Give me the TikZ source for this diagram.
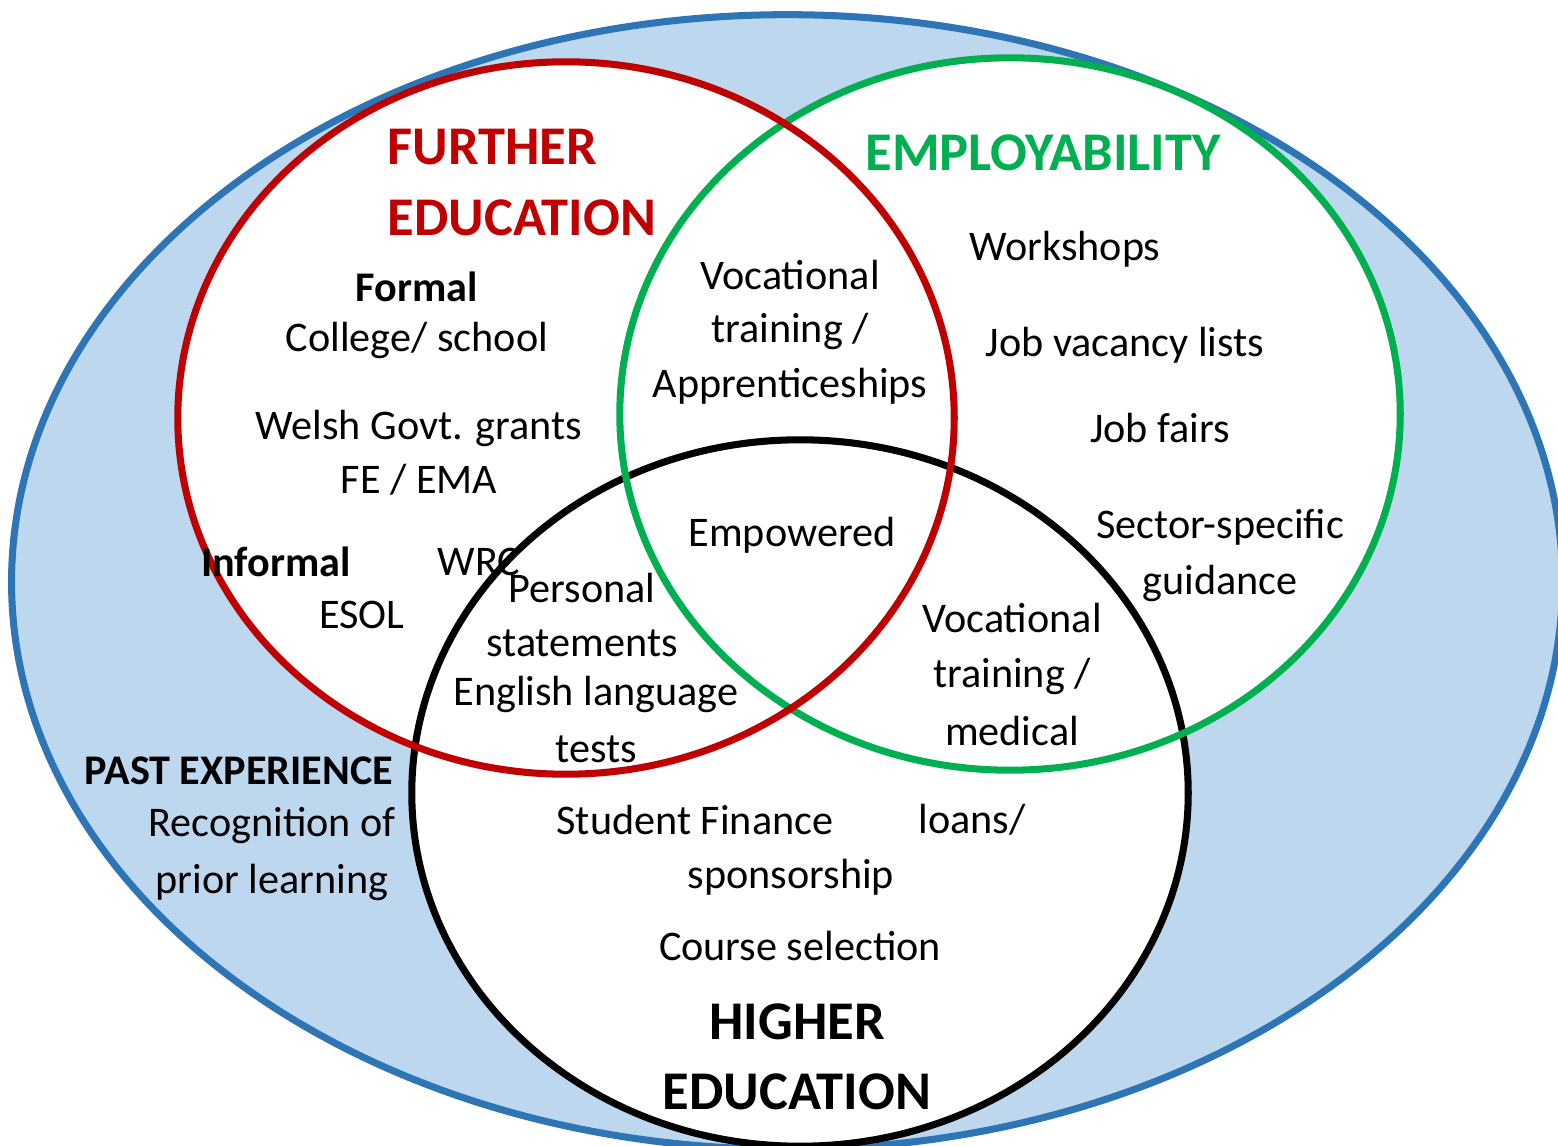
\documentclass[tikz,border=0pt]{standalone}
\usepackage{fontspec}
\setmainfont{Carlito}
\usepackage{tikz}
\definecolor{feRed}{HTML}{C00000}
\definecolor{empGreen}{HTML}{00B050}
\definecolor{pastBlue}{HTML}{2E75B6}
\definecolor{pastFill}{HTML}{BDD7EE}
\tikzset{
  ring/.style={line width=2pt},
  item/.style={inner sep=0pt,font=\fontsize{12}{14}\selectfont},
  boldItem/.style={item,font=\fontsize{12}{14}\selectfont\bfseries},
  title/.style={inner sep=0pt,font=\fontsize{15.5}{18}\selectfont\bfseries}
}

\begin{document}
\begin{tikzpicture}[x=0.01cm,y=-0.01cm]
  \useasboundingbox (0,0) rectangle (1558,1146);
  \clip (0,0) rectangle (1558,1146);

  \coordinate (P) at (787,582);  % past experience
  \coordinate (F) at (566,418);  % further education
  \coordinate (E) at (1010,414); % employability
  \coordinate (H) at (800,793);  % higher education

  \filldraw[ring,draw=pastBlue,fill=pastFill] (P) ellipse [x radius=7.75cm, y radius=5.67cm];
  \fill[white] (F) ellipse [x radius=3.88cm, y radius=3.56cm];
  \fill[white] (E) ellipse [x radius=3.90cm, y radius=3.56cm];
  \fill[white] (H) ellipse [x radius=3.88cm, y radius=3.53cm];
  \draw[ring,black] (H) ellipse [x radius=3.88cm, y radius=3.53cm];
  \draw[ring,empGreen] (E) ellipse [x radius=3.90cm, y radius=3.56cm];
  \draw[ring,feRed] (F) ellipse [x radius=3.88cm, y radius=3.56cm];

  % further education
  \node[title,text=feRed,anchor=west] (feA) at (387,147) {FURTHER};
  \node[title,text=feRed,anchor=west] (feB) at (387,218) {EDUCATION};
  \node[boldItem] (formal) at (417,287) {Formal};
  \node[item] (college) at (417,340) {College/ school};
  \node[item] (grants) at (419,428) {Welsh Govt. grants};
  \node[item] (ema) at (419,480) {FE / EMA};
  \node[boldItem] (informal) at (276,562) {Informal};
  \node[item,anchor=west] (wrc) at (437,562) {WRC};
  \node[item] (esol) at (362,615) {ESOL};

  % employability
  \node[title,text=empGreen] (emp) at (1043,153) {EMPLOYABILITY};
  \node[item] (work) at (1065,249) {Workshops};
  \node[item] (vacancy) at (1125,345) {Job vacancy lists};
  \node[item] (fairs) at (1160,428) {Job fairs};
  \node[item] (sector) at (1220,527) {Sector-specific};
  \node[item] (guide) at (1220,583) {guidance};

  % overlaps
  \node[item] (vocA) at (790,275) {Vocational};
  \node[item] (vocB) at (790,331) {training /};
  \node[item] (vocC) at (790,386) {Apprenticeships};
  \node[item] (power) at (792,535) {Empowered};
  \node[item] (pers) at (582,588) {Personal};
  \node[item] (stat) at (582,643) {statements};
  \node[item] (eng) at (596,694) {English language};
  \node[item] (tests) at (596,749) {tests};
  \node[item] (medA) at (1012,618) {Vocational};
  \node[item] (medB) at (1012,676) {training /};
  \node[item] (medC) at (1012,731) {medical};

  % past experience
  \node[boldItem] (past) at (239,771) {PAST EXPERIENCE};
  \node[item] (recog) at (272,826) {Recognition of};
  \node[item] (prior) at (272,882) {prior learning};

  % higher education
  \node[item] (finance) at (695,820) {Student Finance};
  \node[item] (loans) at (972,820) {loans/};
  \node[item] (spons) at (791,877) {sponsorship};
  \node[item] (course) at (800,946) {Course selection};
  \node[title] (heA) at (797,1022) {HIGHER};
  \node[title] (heB) at (797,1092) {EDUCATION};
\end{tikzpicture}
\end{document}
